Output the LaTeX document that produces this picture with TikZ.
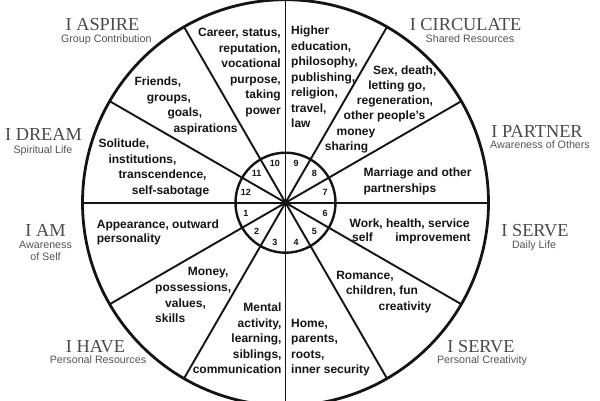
\documentclass[tikz,border=0pt]{standalone}
\usepackage{fontspec}
\setmainfont{Liberation Sans}
\newfontfamily\titlefont{Liberation Serif}
\usetikzlibrary{calc}
\definecolor{ink}{HTML}{141414}
\definecolor{titlegray}{HTML}{4A4A4A}
\definecolor{subgray}{HTML}{555555}
\begin{document}
\begin{tikzpicture}[x=1pt,y=-1pt,
  body/.style={font=\bfseries\fontsize{12}{15}\selectfont, text=ink, inner sep=0pt},
  num/.style={font=\bfseries\fontsize{9}{10}\selectfont, text=ink, inner sep=0pt},
  ttl/.style={font=\titlefont\fontsize{18.3}{20}\selectfont, text=titlegray, inner sep=0pt, anchor=base},
  sub/.style={font=\fontsize{10.7}{12}\selectfont, text=subgray, inner sep=0pt, anchor=base},
  rim/.style={line width=2.8pt, draw=ink},
  hubring/.style={line width=2.4pt, draw=ink},
  spoke/.style={line width=1.9pt, draw=ink}]
\useasboundingbox (0,0) rectangle (600,400);
\fill[white] (0,0) rectangle (600,400);
\clip (0,0) rectangle (600,400);
\coordinate (c) at (285.5,202.7);
% wheel
\foreach \a in {0,30,...,330}
  \draw[spoke] (c) -- ++(\a:203);
\draw[rim] (c) circle[radius=203];
\draw[hubring] (c) circle[radius=50];
\fill[ink] (c) circle[radius=3.6];
\foreach \k in {1,...,12}
  \node[num] (n\k) at ($(c)+({165-30*(\k-1)}:41)$) {\k};
% house 10
\foreach \t [count=\i from 0] in {{Career, status,},{reputation,},{vocational},{purpose,},{taking},{power}}
  \node[body, anchor=base east] (h10-\i) at (281,36.5+15.5*\i) {\t};
% house 9
\foreach \t [count=\i from 0] in {{Higher},{education,},{philosophy,},{publishing,},{religion,},{travel,},{law}}
  \node[body, anchor=base west] (h9-\i) at (291,34.7+15.5*\i) {\t};
% house 8
\node[body, anchor=base] (h8-0) at (404.7,74) {Sex, death,};
\node[body, anchor=base] (h8-1) at (397,89.3) {letting go,};
\node[body, anchor=base] (h8-2) at (395,104.6) {regeneration,};
\node[body, anchor=base] (h8-3) at (384.5,119.9) {other people’s};
\node[body, anchor=base] (h8-4) at (356,135.2) {money};
\node[body, anchor=base] (h8-5) at (346.5,150.5) {sharing};
% house 7
\node[body, anchor=base west] (h7-0) at (363.3,176.7) {Marriage and other};
\node[body, anchor=base west] (h7-1) at (363.3,192.3) {partnerships};
% house 6
\node[body, anchor=base west] (h6-0) at (349.5,227) {Work, health, service};
\node[body, anchor=base west] (h6-1) at (352,241.8) {\hbox to 118.5pt{self\hfill improvement}};
% house 5
\node[body, anchor=base] (h5-0) at (365,279) {Romance,};
\node[body, anchor=base] (h5-1) at (382,294.7) {children, fun};
\node[body, anchor=base] (h5-2) at (405,310.5) {creativity};
% house 4
\foreach \t [count=\i from 0] in {{Home,},{parents,},{roots,},{inner security}}
  \node[body, anchor=base west] (h4-\i) at (291,327+15.5*\i) {\t};
% house 3
\foreach \t [count=\i from 0] in {{Mental},{activity,},{learning,},{siblings,},{communication}}
  \node[body, anchor=base east] (h3-\i) at (281.7,311.5+15.5*\i) {\t};
% house 2
\node[body, anchor=base west] (h2-0) at (187.7,275.7) {Money,};
\node[body, anchor=base west] (h2-1) at (155,291.3) {possessions,};
\node[body, anchor=base west] (h2-2) at (165,307) {values,};
\node[body, anchor=base west] (h2-3) at (155,322.4) {skills};
% house 1
\node[body, anchor=base west] (h1-0) at (96.7,228.3) {Appearance, outward};
\node[body, anchor=base west] (h1-1) at (96.7,242.8) {personality};
% house 12
\node[body, anchor=base west] (h12-0) at (98.3,147.5) {Solitude,};
\node[body, anchor=base west] (h12-1) at (108.3,163) {institutions,};
\node[body, anchor=base west] (h12-2) at (118.3,178.5) {transcendence,};
\node[body, anchor=base west] (h12-3) at (131.7,194) {self-sabotage};
% house 11
\node[body, anchor=base west] (h11-0) at (134.3,85) {Friends,};
\node[body, anchor=base west] (h11-1) at (146.7,101) {groups,};
\node[body, anchor=base west] (h11-2) at (167.3,116.8) {goals,};
\node[body, anchor=base west] (h11-3) at (173.3,132) {aspirations};
% outer labels
\node[ttl] (t11) at (102.5,30) {I ASPIRE};
\node[sub] (s11) at (106.3,42.3) {Group Contribution};
\node[ttl] (t8) at (465.5,30.2) {I CIRCULATE};
\node[sub] (s8) at (470,42.3) {Shared Resources};
\node[ttl] (t7) at (537,137.2) {I PARTNER};
\node[sub] (s7) at (540,148.5) {Awareness of Others};
\node[ttl] (t12) at (43.5,140.2) {I DREAM};
\node[sub] (s12) at (43,153.5) {Spiritual Life};
\node[ttl] (t1) at (45.5,236.2) {I AM};
\node[sub] (s1a) at (45.5,248.5) {Awareness};
\node[sub] (s1b) at (45.5,260.3) {of Self};
\node[ttl] (t6) at (535,236.7) {I SERVE};
\node[sub] (s6) at (534,248.5) {Daily Life};
\node[ttl] (t2) at (95.5,352.2) {I HAVE};
\node[sub] (s2) at (98,363.5) {Personal Resources};
\node[ttl] (t5) at (481,352.2) {I SERVE};
\node[sub] (s5) at (482,363.5) {Personal Creativity};
\end{tikzpicture}
\end{document}
